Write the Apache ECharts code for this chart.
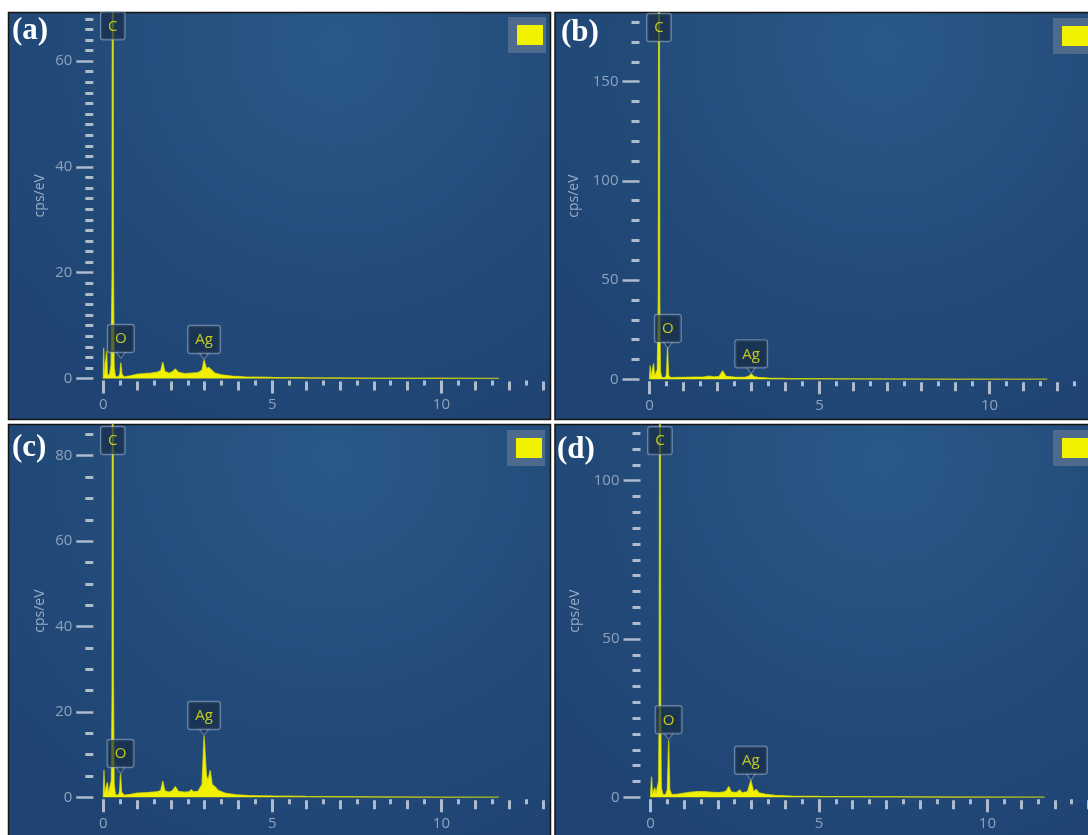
<!DOCTYPE html>
<html>
<head>
<meta charset="utf-8">
<script src="https://cdn.jsdelivr.net/npm/echarts@6/dist/echarts.min.js"></script>
<style>
html,body{margin:0;padding:0;background:#fff;}
#chart{width:1088px;height:835px;}
</style>
</head>
<body>
<div id="chart"></div>
<script>
// ---------- DATA (energy keV, cps/eV) ----------
const specA = [[0,0],[0.01,5.8],[0.03,0.8],[0.08,0.8],[0.1,5.2],[0.12,0.8],[0.18,0.5],[0.23,2.5],[0.26,20],[0.28,160],[0.30,20],[0.32,2],[0.36,0.4],[0.44,0.3],[0.49,0.8],[0.52,3.0],[0.55,0.8],[0.62,0.3],[0.8,0.5],[1.0,0.8],[1.2,0.9],[1.4,1.0],[1.6,1.2],[1.7,1.5],[1.76,3.1],[1.82,1.3],[1.95,1.0],[2.05,1.3],[2.13,1.8],[2.22,1.2],[2.4,0.9],[2.6,1.0],[2.8,1.1],[2.92,1.6],[2.98,3.5],[3.05,1.9],[3.12,2.1],[3.2,1.6],[3.3,1.0],[3.5,0.7],[3.8,0.45],[4.2,0.3],[5,0.22],[6,0.15],[8,0.08],[10,0.05],[11.7,0.03]];
const specB = [[0,0],[0.02,7],[0.05,1],[0.09,1.5],[0.12,8],[0.15,1.5],[0.2,1],[0.23,5],[0.26,40],[0.28,350],[0.30,40],[0.32,4],[0.36,1],[0.45,0.8],[0.5,2],[0.53,16.5],[0.56,2],[0.62,0.8],[0.8,0.9],[1.0,1.0],[1.3,1.1],[1.6,1.2],[1.76,1.6],[1.9,1.2],[2.05,1.5],[2.15,4.2],[2.25,1.5],[2.5,1.1],[2.8,1.0],[2.92,1.6],[2.99,2.7],[3.08,1.3],[3.2,1.0],[3.5,0.6],[4,0.4],[5,0.3],[7,0.2],[9,0.1],[11.7,0.05]];
const specC = [[0,0],[0.02,6.4],[0.04,1],[0.09,1],[0.12,3.5],[0.15,1],[0.2,0.8],[0.24,4],[0.26,25],[0.28,200],[0.30,25],[0.32,3],[0.36,0.6],[0.44,0.5],[0.48,1.2],[0.51,5.5],[0.54,1.2],[0.62,0.5],[0.8,0.7],[1.0,1.0],[1.3,1.1],[1.6,1.3],[1.7,1.6],[1.76,3.8],[1.82,1.5],[1.95,1.2],[2.05,1.6],[2.13,2.5],[2.22,1.4],[2.4,1.2],[2.55,1.3],[2.6,1.8],[2.66,1.3],[2.8,1.4],[2.92,3],[2.98,14.4],[3.05,5],[3.1,4],[3.16,6.3],[3.22,3],[3.3,2.5],[3.4,1.6],[3.6,1.0],[3.9,0.6],[4.3,0.4],[5,0.3],[6,0.2],[8,0.1],[10,0.06],[11.7,0.03]];
const specD = [[0,0],[0.03,6.5],[0.06,1],[0.1,1],[0.13,3],[0.16,1],[0.2,1],[0.24,5],[0.26,30],[0.28,250],[0.30,30],[0.32,3],[0.37,0.8],[0.45,0.8],[0.5,2.5],[0.54,18],[0.57,2.5],[0.63,0.8],[0.8,1.0],[1.0,1.3],[1.2,1.6],[1.4,1.8],[1.6,1.8],[1.8,1.6],[2.0,1.5],[2.15,1.6],[2.25,2],[2.32,3.4],[2.4,1.7],[2.55,1.5],[2.65,2.3],[2.72,1.4],[2.88,1.8],[2.98,5.3],[3.06,1.8],[3.14,2.5],[3.22,1.4],[3.4,1.0],[3.7,0.6],[4.2,0.4],[5,0.3],[7,0.2],[9,0.1],[11.7,0.05]];

// peak labels: [element, energy, pointer-tip value]
const peaksA = [['C',0.28,63.0],['O',0.52,3.8],['Ag',2.98,3.6]];
const peaksB = [['C',0.28,167.5],['O',0.54,15.6],['Ag',2.99,2.8]];
const peaksC = [['C',0.28,79.0],['O',0.51,5.6],['Ag',2.98,14.5]];
const peaksD = [['C',0.28,106.5],['O',0.54,18.2],['Ag',2.98,5.4]];

const panelLetters = ['(a)','(b)','(c)','(d)'];
const yName = 'cps/eV';

// tick values
const xLabelTicks = [0,5,10];
const xIntTicks = [1,2,3,4,6,7,8,9,11,12,13];
const xHalfTicks = [0.5,1.5,2.5,3.5,4.5,5.5,6.5,7.5,8.5,9.5,10.5,11.5,12.5];
const yMajorA = [0,20,40,60];
const yMinorA = [2,4,6,8,10,12,14,16,18,22,24,26,28,30,32,34,36,38,42,44,46,48,50,52,54,56,58,62,64,66,68];
const yMajorB = [0,50,100,150];
const yMinorB = [10,20,30,40,60,70,80,90,110,120,130,140,160,170,180];
const yMajorC = [0,20,40,60,80];
const yMinorC = [5,10,15,25,30,35,45,50,55,65,70,75,85];
const yMajorD = [0,50,100];
const yMinorD = [5,10,15,20,25,30,35,40,45,55,60,65,70,75,80,85,90,95,105,110,115];

// ---------- LAYOUT ----------
const panels = [
  {spec:specA, peaks:peaksA, yMajor:yMajorA, yMinor:yMinorA, xMax:13.22, yMax:69.1,
   grid:{left:103.3, top:13, width:447, height:365.5}, frame:[8.5,12.5,542,407], legend:[508,17], nameGap:46, letter:[12,31]},
  {spec:specB, peaks:peaksB, yMajor:yMajorB, yMinor:yMinorB, xMax:12.94, yMax:184.6,
   grid:{left:649.5, top:13, width:440, height:366.3}, frame:[555,12.5,545,407], legend:[1053,18], nameGap:58, letter:[561,33]},
  {spec:specC, peaks:peaksC, yMajor:yMajorC, yMinor:yMinorC, xMax:13.22, yMax:87.2,
   grid:{left:103.3, top:425, width:447, height:372.3}, frame:[8.5,424.5,542,420], legend:[507,430], nameGap:46, letter:[12,448]},
  {spec:specD, peaks:peaksD, yMajor:yMajorD, yMinor:yMinorD, xMax:13.0, yMax:117.6,
   grid:{left:650.5, top:425, width:438, height:372.3}, frame:[555,424.5,545,420], legend:[1053,430], nameGap:58, letter:[557,450]}
];

const tickColor = '#adbbcd';
const labelColor = '#8ea2ba';
const fontFam = '"Open Sans", "Noto Sans", sans-serif';
const pointerStyle = {color:'#1b3556', borderColor:'rgba(150,172,198,0.75)', borderWidth:1};
const hiddenPointer = {color:'rgba(0,0,0,0)', borderColor:'rgba(0,0,0,0)', borderWidth:0};

const grids=[], xAxes=[], yAxes=[], series=[], legends=[], graphics=[];

panels.forEach((p,i)=>{
  graphics.push({
    type:'rect', z:-10, silent:true,
    shape:{x:p.frame[0], y:p.frame[1], width:p.frame[2], height:p.frame[3]},
    style:{
      fill:{type:'radial', x:0.6, y:0.08, r:1.0, colorStops:[
        {offset:0, color:'#2a5987'},{offset:0.55, color:'#234c7b'},{offset:1, color:'#1f4473'}]},
      stroke:'#141414', lineWidth:1.5
    }
  });
  graphics.push({
    type:'text', z:100, silent:true, x:p.letter[0], y:p.letter[1],
    style:{text:panelLetters[i], fill:'#ffffff', font:'bold 31px "Liberation Serif", "Times New Roman", serif', verticalAlign:'middle'}
  });

  grids.push(Object.assign({outerBoundsMode:'none', containLabel:false}, p.grid));

  const xBase = {type:'value', gridIndex:i, position:'bottom', min:0, max:p.xMax,
    axisLine:{show:false, onZero:false}, splitLine:{show:false}};
  xAxes.push(Object.assign({}, xBase, {
    offset:2,
    axisTick:{show:true, customValues:xLabelTicks, length:13, lineStyle:{color:tickColor, width:3}},
    axisLabel:{show:true, customValues:xLabelTicks, color:labelColor, fontSize:15, margin:17, fontFamily:fontFam}
  }));
  xAxes.push(Object.assign({}, xBase, {
    offset:3,
    axisTick:{show:true, customValues:xIntTicks, length:9, lineStyle:{color:tickColor, width:3}},
    axisLabel:{show:false}
  }));
  xAxes.push(Object.assign({}, xBase, {
    offset:2,
    axisTick:{show:true, customValues:xHalfTicks, length:5, lineStyle:{color:tickColor, width:3}},
    axisLabel:{show:false}
  }));

  const yBase = {type:'value', gridIndex:i, position:'left', min:0, max:p.yMax, offset:10,
    axisLine:{show:false, onZero:false}, splitLine:{show:false}};
  yAxes.push(Object.assign({}, yBase, {
    name:yName, nameLocation:'middle', nameGap:p.nameGap,
    nameTextStyle:{color:'#9aaec5', fontSize:14, fontFamily:fontFam},
    axisTick:{show:true, customValues:p.yMajor, length:17, lineStyle:{color:tickColor, width:2.5}},
    axisLabel:{show:true, customValues:p.yMajor, color:labelColor, fontSize:15, margin:21, fontFamily:fontFam}
  }));
  yAxes.push(Object.assign({}, yBase, {
    axisTick:{show:true, customValues:p.yMinor, length:8, lineStyle:{color:tickColor, width:3}},
    axisLabel:{show:false}
  }));

  const name = 'Spectrum ' + panelLetters[i];
  series.push({
    name:name, type:'line', xAxisIndex:3*i, yAxisIndex:2*i, data:p.spec,
    showSymbol:false, symbol:'none', smooth:false, clip:true, z:3,
    lineStyle:{color:'#e8e800', width:1.3, opacity:0.7}, itemStyle:{color:'#f2f200'},
    areaStyle:{color:'#f0f000', opacity:1}
  });
  series.push({
    type:'scatter', xAxisIndex:3*i, yAxisIndex:2*i, z:5, clip:false,
    data:p.peaks.map(pk=>({value:[pk[1],pk[2]], name:pk[0],
      itemStyle: pk[0]==='C' ? hiddenPointer : pointerStyle})),
    symbol:'triangle', symbolRotate:180, symbolSize:[10,7], symbolOffset:[0,-3.5],
    itemStyle:pointerStyle,
    label:{show:true, position:'top', distance:-1, formatter:'{b}',
      color:'#ecec12', fontSize:15, fontFamily:fontFam, lineHeight:18,
      backgroundColor:'rgba(22,42,68,0.85)', borderColor:'rgba(150,172,198,0.75)', borderWidth:1.2,
      borderRadius:2, padding:[5,7,4,7]},
    emphasis:{disabled:true}, silent:true
  });
  legends.push({
    data:[name], left:p.legend[0], top:p.legend[1], orient:'horizontal',
    icon:'rect', itemWidth:26, itemHeight:20, itemGap:0,
    padding:[8,3,8,9], backgroundColor:'#4e6b8e', formatter:()=>'',
    selectedMode:false, textStyle:{fontSize:1}
  });
});

const chart = echarts.init(document.getElementById('chart'), null, {renderer:'canvas'});
chart.setOption({
  animation:false,
  backgroundColor:'#ffffff',
  grid:grids, xAxis:xAxes, yAxis:yAxes, series:series, legend:legends, graphic:graphics
});
</script>
</body>
</html>
